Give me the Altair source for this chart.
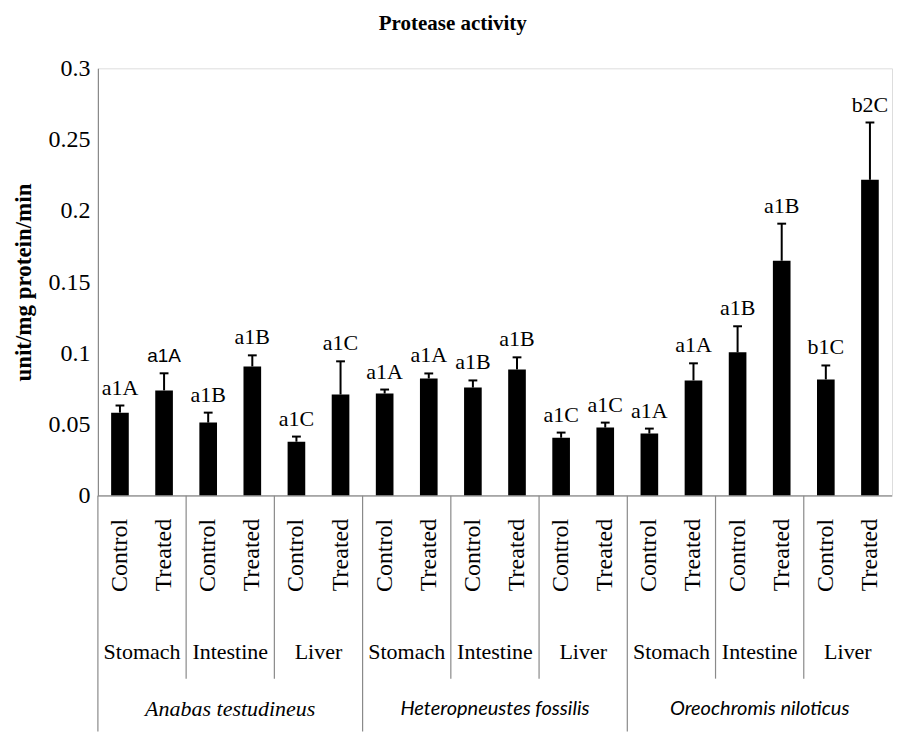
import altair as alt
import pandas as pd

# ---- data ----
SPECIES = ["Anabas testudineus", "Heteropneustes fossilis", "Oreochromis niloticus"]
ORGANS = ["Stomach", "Intestine", "Liver"]
TREATMENTS = ["Control", "Treated"]

VALUES = [0.0584, 0.0740, 0.0514, 0.0908, 0.0380, 0.0711,
          0.0718, 0.0824, 0.0760, 0.0887, 0.0408, 0.0479,
          0.0437, 0.0810, 0.1007, 0.1650, 0.0817, 0.2218]
ERR_TOPS = [0.0634, 0.0860, 0.0584, 0.0986, 0.0416, 0.0944,
            0.0746, 0.0859, 0.0810, 0.0972, 0.0444, 0.0514,
            0.0472, 0.0930, 0.1190, 0.1910, 0.0915, 0.2620]
LETTERS = ["a1A", "a1A", "a1B", "a1B", "a1C", "a1C",
           "a1A", "a1A", "a1B", "a1B", "a1C", "a1C",
           "a1A", "a1A", "a1B", "a1B", "b1C", "b2C"]
Y_TICKS = [0, 0.05, 0.1, 0.15, 0.2, 0.25, 0.3]

# ---- build tables ----
rows = []
i = 0
for s in SPECIES:
    for o in ORGANS:
        for t in TREATMENTS:
            rows.append(dict(idx=i, species=s, organ=o, treat=t,
                             value=VALUES[i], errtop=ERR_TOPS[i], letter=LETTERS[i],
                             sans=(i == 1)))
            i += 1
df = pd.DataFrame(rows)
df["x0"] = df["idx"] + 0.3
df["x1"] = df["idx"] + 0.7
df["xc"] = df["idx"] + 0.5
df["c0"] = df["idx"] + 0.4
df["c1"] = df["idx"] + 0.6

organ_df = pd.DataFrame([dict(organ=o, species=s, xc=(k * 2 + 1))
                         for k, (s, o) in enumerate([(s, o) for s in SPECIES for o in ORGANS])])
species_df = pd.DataFrame([dict(species=s, xc=j * 6 + 3, serif=(j == 0)) for j, s in enumerate(SPECIES)])
organ_sep = pd.DataFrame(dict(x=[k * 2 for k in range(9) if k % 3 != 0]))
species_sep = pd.DataFrame(dict(x=[j * 6 for j in range(3)]))
base_df = pd.DataFrame(dict(x=[0], x2=[18], y=[0]))

H = 428
W = 795
SERIF = "Liberation Serif, Times New Roman, serif"
GRAY = "#8a8a8a"

xs = alt.Scale(domain=[0, 18], nice=False, zero=False)
ys = alt.Scale(domain=[0, 0.3], nice=False)

base = alt.Chart(df)

bars = base.mark_bar(color="black").encode(
    x=alt.X("x0:Q", scale=xs, axis=None),
    x2="x1:Q",
    y=alt.Y("value:Q", scale=ys,
            axis=alt.Axis(values=Y_TICKS, labelExpr="format(datum.value, '~g')",
                          ticks=False, grid=False, domainColor=GRAY, domainWidth=1.2,
                          labelFont=SERIF, labelFontSize=24, labelColor="black",
                          labelPadding=8, title="unit/mg protein/min",
                          titleFont=SERIF, titleFontSize=23, titleFontWeight="bold",
                          titleColor="black", titlePadding=12)),
    y2=alt.datum(0),
)

err = base.mark_rule(color="black", strokeWidth=2).encode(
    x=alt.X("xc:Q", scale=xs), y=alt.Y("value:Q", scale=ys), y2="errtop:Q")
cap = base.mark_rule(color="black", strokeWidth=2).encode(
    x=alt.X("c0:Q", scale=xs), x2="c1:Q", y=alt.Y("errtop:Q", scale=ys))

lab_serif = base.transform_filter("!datum.sans").mark_text(
    font=SERIF, fontSize=22, baseline="alphabetic", dy=-11, color="black").encode(
    x=alt.X("xc:Q", scale=xs), y=alt.Y("errtop:Q", scale=ys), text="letter:N")
lab_sans = base.transform_filter("datum.sans").mark_text(
    font="Liberation Sans", fontSize=19, baseline="alphabetic", dy=-11, color="black").encode(
    x=alt.X("xc:Q", scale=xs), y=alt.Y("errtop:Q", scale=ys), text="letter:N")

baseline = alt.Chart(base_df).mark_rule(color=GRAY, strokeWidth=1.2).encode(
    x=alt.X("x:Q", scale=xs), x2="x2:Q", y=alt.Y("y:Q", scale=ys))

treat_txt = base.mark_text(font=SERIF, fontSize=24, angle=270, align="right",
                           baseline="middle", color="black").encode(
    x=alt.X("xc:Q", scale=xs), y=alt.value(H + 23), text="treat:N")

organ_txt = alt.Chart(organ_df).mark_text(font=SERIF, fontSize=22, baseline="middle",
                                          color="black").encode(
    x=alt.X("xc:Q", scale=xs), y=alt.value(H + 156), text="organ:N")

organ_lines = alt.Chart(organ_sep).mark_rule(color=GRAY, strokeWidth=1.2).encode(
    x=alt.X("x:Q", scale=xs), y=alt.value(H), y2=alt.value(H + 183))
species_lines = alt.Chart(species_sep).mark_rule(color=GRAY, strokeWidth=1.2).encode(
    x=alt.X("x:Q", scale=xs), y=alt.value(H), y2=alt.value(H + 236))

sp_serif = alt.Chart(species_df).transform_filter("datum.serif").mark_text(
    font=SERIF, fontSize=22, fontStyle="italic", baseline="middle", color="black").encode(
    x=alt.X("xc:Q", scale=xs), y=alt.value(H + 213), text="species:N")
sp_sans = alt.Chart(species_df).transform_filter("!datum.serif").mark_text(
    font="Lato", fontSize=20, fontStyle="italic", baseline="middle", color="black").encode(
    x=alt.X("xc:Q", scale=xs), y=alt.value(H + 213), text="species:N")

chart = alt.layer(
    bars, err, cap, lab_serif, lab_sans, baseline, treat_txt, organ_txt,
    organ_lines, species_lines, sp_serif, sp_sans
).properties(
    width=W, height=H,
    padding={"left": 5, "top": 5, "right": 0, "bottom": 0},
    title=alt.TitleParams("Protease activity", font=SERIF, fontSize=21, fontWeight="bold",
                          anchor="middle", frame="bounds", offset=22, color="black"),
).configure_view(stroke=None).configure(background="white")

chart.save("out.html", embed_options={"renderer": "svg", "actions": False})
